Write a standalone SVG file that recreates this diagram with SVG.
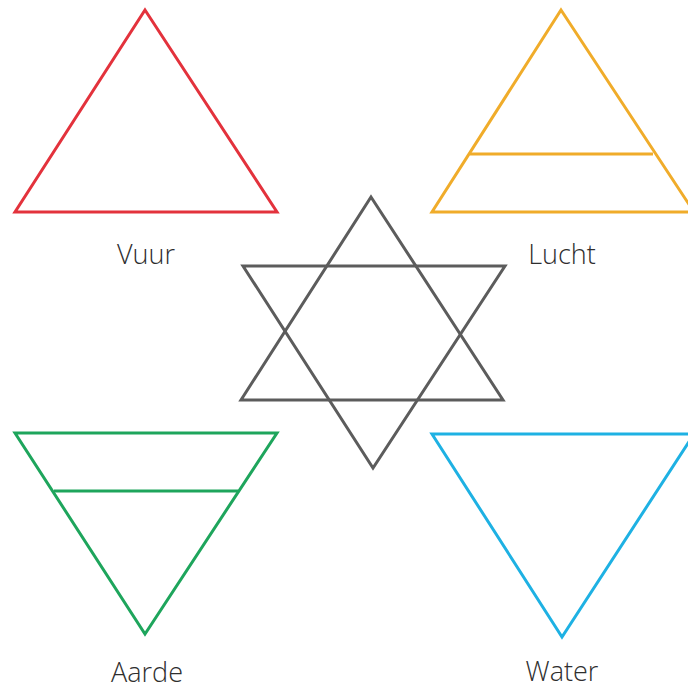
<svg xmlns="http://www.w3.org/2000/svg" width="688" height="690" viewBox="0 0 688 690">
<style>
.t{fill:none;stroke-width:3;stroke-linejoin:miter}
.lbl{font-family:"Open Sans","Noto Sans",sans-serif;font-weight:300;font-size:27px;fill:#2e2e2e;text-anchor:middle}
</style>
<rect width="688" height="690" fill="#ffffff"/>
<g id="vuur">
<polygon class="t" stroke="#e3323c" points="145,10 277,212 15,212"/>
<text class="lbl" x="146" y="264">Vuur</text>
</g>
<g id="lucht">
<polygon class="t" stroke="#f0ac2a" points="561,10 694,212 432,212"/>
<line class="t" stroke="#f0ac2a" x1="470" y1="154" x2="653" y2="154"/>
<text class="lbl" x="562" y="264">Lucht</text>
</g>
<g id="ster">
<polygon class="t" stroke="#5c5c5c" points="371,197 503,400 241,400"/>
<polygon class="t" stroke="#5c5c5c" points="243,266 505,266 373,468"/>
</g>
<g id="aarde">
<polygon class="t" stroke="#1ea55c" points="15,433 277,433 145,634"/>
<line class="t" stroke="#1ea55c" x1="54" y1="491" x2="238" y2="491"/>
<text class="lbl" x="147" y="682">Aarde</text>
</g>
<g id="water">
<polygon class="t" stroke="#1eb1e3" points="432,434 694,434 562,637"/>
<text class="lbl" x="562" y="681">Water</text>
</g>
<g id="connectors"></g>
</svg>
